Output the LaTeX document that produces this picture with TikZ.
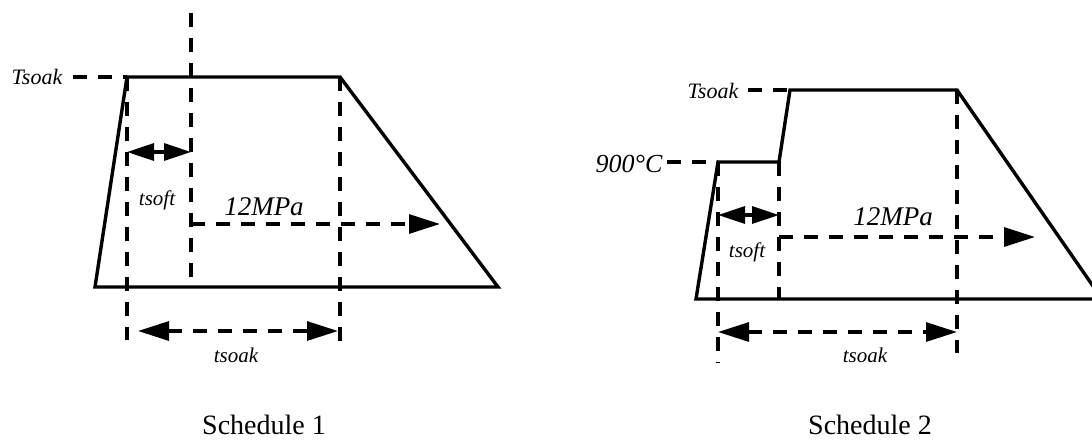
\documentclass[tikz,border=0pt]{standalone}
\usepackage{fontspec}
\setmainfont{Liberation Serif}
\usetikzlibrary{arrows.meta}
\tikzset{
  curve/.style={line width=3.4pt, line join=miter},
  guide/.style={line width=3.2pt, dash pattern=on 14pt off 11pt},
  bigarrow/.style={guide, -{Triangle[length=31pt,width=19pt]}},
  dblarrow/.style={guide, {Triangle[length=27pt,width=17pt]}-{Triangle[length=27pt,width=17pt]}},
  dimarrow/.style={guide, {Triangle[length=31pt,width=19pt]}-{Triangle[length=31pt,width=19pt]}},
  lbl/.style={inner sep=0pt, anchor=base, font=\itshape\fontsize{21pt}{21pt}\selectfont},
  biglbl/.style={lbl, font=\itshape\fontsize{27pt}{27pt}\selectfont},
  captxt/.style={inner sep=0pt, anchor=base, font=\fontsize{28pt}{28pt}\selectfont}
}
\begin{document}
\begin{tikzpicture}[x=1pt,y=-1pt]
\useasboundingbox (0,0) rectangle (1092,440);
% ---------- Schedule 1 ----------
\coordinate (A1) at (95,287);
\coordinate (B1) at (127,77);
\coordinate (C1) at (340,77);
\coordinate (D1) at (498,287);
\coordinate (V1t) at (191,13);
\coordinate (V1b) at (191,282);
\coordinate (P1s) at (191,224);
\coordinate (P1e) at (440,224);
\coordinate (B1b) at (127,340);
\coordinate (C1b) at (340,352);
\coordinate (S1a) at (127,152);
\coordinate (S1b) at (191,152);
\coordinate (K1a) at (138,331);
\coordinate (K1b) at (338,331);
\coordinate (T1e) at (73,77);

\draw[curve] (A1) -- (B1) -- (C1) -- (D1) -- cycle;
\node[lbl, font=\itshape\fontsize{22pt}{22pt}\selectfont] (T1) at (37,84) {Tsoak};
\draw[guide] (T1e) -- (B1);
\draw[guide] (V1t) -- (V1b);
\draw[guide] (B1) -- (B1b);
\draw[guide] (C1) -- (C1b);
\draw[bigarrow] (P1s) -- (P1e);
\draw[dblarrow] (S1a) -- (S1b);
\draw[dimarrow] (K1a) -- (K1b);
\node[biglbl] (M1) at (264,215) {12MPa};
\node[lbl] (s1) at (157,205) {tsoft};
\node[lbl] (k1) at (236,362) {tsoak};
\node[captxt] (N1) at (264,434) {Schedule 1};

% ---------- Schedule 2 ----------
\coordinate (A2) at (696,299);
\coordinate (B2) at (718,162);
\coordinate (C2) at (779,162);
\coordinate (D2) at (790,90);
\coordinate (E2) at (957,90);
\coordinate (F2) at (1102,299);
\coordinate (T2e) at (748,90);
\coordinate (G2e) at (667,162);
\coordinate (B2b) at (718,363);
\coordinate (C2b) at (779,298);
\coordinate (E2b) at (957,353);
\coordinate (P2s) at (779,237);
\coordinate (P2e) at (1035,237);
\coordinate (S2a) at (718,215);
\coordinate (S2b) at (779,215);
\coordinate (K2a) at (718,332);
\coordinate (K2b) at (957,332);

\draw[curve] (A2) -- (B2) -- (C2) -- (D2) -- (E2) -- (F2) -- cycle;
\node[lbl, font=\itshape\fontsize{22pt}{22pt}\selectfont] (T2) at (713,98) {Tsoak};
\node[lbl, font=\itshape\fontsize{26pt}{26pt}\selectfont] (G2) at (629,172) {900°C};
\draw[guide] (T2e) -- (D2);
\draw[guide] (G2e) -- (B2);
\draw[guide] (B2) -- (B2b);
\draw[guide] (C2) -- (C2b);
\draw[guide] (E2) -- (E2b);
\draw[bigarrow] (P2s) -- (P2e);
\draw[dblarrow] (S2a) -- (S2b);
\draw[dimarrow] (K2a) -- (K2b);
\node[biglbl] (M2) at (893,225) {12MPa};
\node[lbl] (s2) at (747,257) {tsoft};
\node[lbl] (k2) at (865,362) {tsoak};
\node[captxt] (N2) at (870,434) {Schedule 2};
\end{tikzpicture}
\end{document}
